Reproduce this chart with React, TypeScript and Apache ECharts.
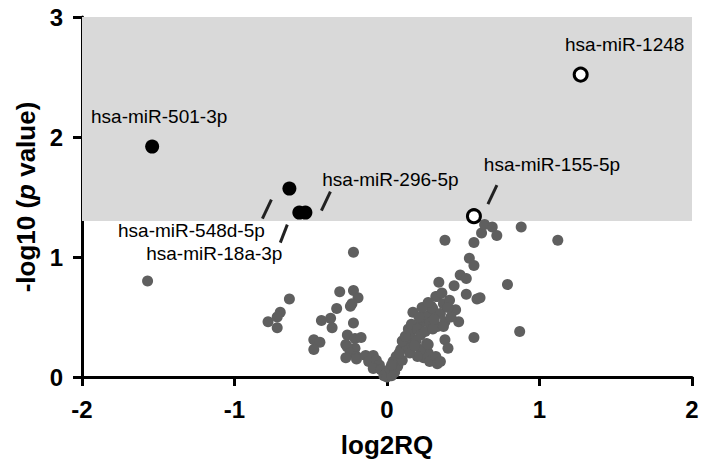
import React, { useEffect, useRef } from 'react';
import * as echarts from 'echarts';

// Non-significant miRNAs: [log2RQ, -log10 p]
const grayPoints: [number, number][] = [
  [-1.57, 0.8],
  [-0.64, 0.65], [-0.7, 0.54], [-0.72, 0.5], [-0.78, 0.46], [-0.72, 0.41],
  [-0.22, 1.04],
  [-0.31, 0.71], [-0.22, 0.72], [-0.19, 0.66], [-0.23, 0.61], [-0.24, 0.59],
  [-0.33, 0.57], [-0.37, 0.49], [-0.43, 0.47], [-0.36, 0.41], [-0.22, 0.45],
  [-0.48, 0.31], [-0.44, 0.29], [-0.48, 0.23],
  [-0.26, 0.35], [-0.21, 0.32], [-0.17, 0.33], [-0.27, 0.27], [-0.21, 0.24], [-0.26, 0.25],
  [-0.24, 0.2], [-0.27, 0.16], [-0.2, 0.17], [-0.2, 0.15], [-0.14, 0.18], [-0.09, 0.18],
  [-0.12, 0.13], [-0.07, 0.14], [-0.05, 0.1], [-0.09, 0.07], [-0.04, 0.06], [-0.01, 0.03],
  [0.01, 0.02], [-0.02, 0.01], [0.0, 0.0], [0.03, 0.01],
  [0.02, 0.07], [0.05, 0.04], [0.04, 0.13], [0.06, 0.17], [0.07, 0.09], [0.1, 0.14],
  [0.09, 0.23], [0.12, 0.28], [0.13, 0.24], [0.15, 0.36], [0.17, 0.31], [0.18, 0.41],
  [0.22, 0.45], [0.24, 0.5], [0.28, 0.52], [0.29, 0.59], [0.32, 0.67], [0.17, 0.54],
  [0.26, 0.28], [0.27, 0.2], [0.24, 0.16], [0.28, 0.13], [0.22, 0.23], [0.2, 0.17],
  [0.32, 0.17], [0.33, 0.11], [0.27, 0.27],
  [0.26, 0.5], [0.28, 0.45], [0.3, 0.57], [0.33, 0.42], [0.33, 0.67], [0.35, 0.53],
  [0.37, 0.61], [0.38, 0.46], [0.41, 0.64], [0.45, 0.56], [0.47, 0.46], [0.37, 0.42],
  [0.38, 0.31], [0.4, 0.24], [0.35, 0.13],
  [0.1, 0.3], [0.12, 0.34], [0.14, 0.4], [0.16, 0.44], [0.2, 0.4], [0.22, 0.35],
  [0.25, 0.38], [0.19, 0.3], [0.08, 0.2], [0.03, 0.1], [0.15, 0.2], [0.18, 0.26],
  [0.21, 0.5], [0.3, 0.4], [0.31, 0.48], [0.23, 0.58], [0.27, 0.62], [0.42, 0.5],
  [0.4, 0.58], [0.36, 0.7],
  [0.34, 0.79], [0.44, 0.76], [0.48, 0.85], [0.52, 0.82], [0.52, 0.69], [0.59, 0.65],
  [0.57, 0.33], [0.87, 0.38], [0.79, 0.77], [0.61, 0.66],
  [0.38, 1.14], [0.57, 1.12], [0.62, 1.2], [0.64, 1.27], [0.69, 1.25], [0.72, 1.18],
  [0.88, 1.25], [1.12, 1.14], [0.54, 0.99], [0.57, 0.93],
];

// Significant, filled (black)
const filledNames = ['hsa-miR-501-3p', 'hsa-miR-548d-5p', 'hsa-miR-18a-3p', 'hsa-miR-296-5p'];
const filledX = [-1.54, -0.64, -0.575, -0.535];
const filledY = [1.92, 1.57, 1.37, 1.37];

// Significant, open circles
const openNames = ['hsa-miR-1248', 'hsa-miR-155-5p'];
const openX = [1.27, 0.57];
const openY = [2.52, 1.34];

const xTicks = [-2, -1, 0, 1, 2];
const yTicks = [0, 1, 2, 3];
const pThreshold = 1.301; // -log10(0.05)

// label placement (pixel offsets relative to the point) — style only
const labelLayout: Record<string, { dx: number; dy: number; line?: [number, number, number, number] }> = {
  'hsa-miR-501-3p': { dx: 7, dy: -30 },
  'hsa-miR-1248': { dx: 44, dy: -30 },
  'hsa-miR-296-5p': { dx: 85, dy: -33, line: [16, -2, 25, -21] },
  'hsa-miR-155-5p': { dx: 78, dy: -52, line: [14, -12, 23, -31] },
  'hsa-miR-548d-5p': { dx: -98, dy: 42, line: [-18, 11, -27, 30] },
  'hsa-miR-18a-3p': { dx: -85, dy: 41, line: [-12, 12, -19, 30] },
};

const FONT = '"Liberation Sans", Arial, Helvetica, sans-serif';

export default function App() {
  const ref = useRef<HTMLDivElement>(null);
  useEffect(() => {
    if (!ref.current) return;
    const chart = echarts.init(ref.current, null, { renderer: 'svg' });
    const axisLineStyle = { color: '#000', width: 3 };
    const option: any = {
      animation: false,
      backgroundColor: '#fff',
      grid: { left: 82, right: 10, top: 17, bottom: 86, containLabel: false },
      xAxis: {
        type: 'value',
        min: xTicks[0],
        max: xTicks[xTicks.length - 1],
        interval: 1,
        position: 'bottom',
        axisLine: { show: true, onZero: false, lineStyle: axisLineStyle },
        axisTick: { show: true, length: 9, lineStyle: axisLineStyle },
        splitLine: { show: false },
        axisLabel: { fontSize: 24, fontWeight: 'bold', color: '#000', fontFamily: FONT, margin: 20 },
        name: 'log2RQ',
        nameLocation: 'middle',
        nameGap: 55,
        nameTextStyle: { fontSize: 26, fontWeight: 'bold', color: '#000', fontFamily: FONT },
      },
      yAxis: {
        type: 'value',
        min: yTicks[0],
        max: yTicks[yTicks.length - 1],
        interval: 1,
        axisLine: { show: true, onZero: false, lineStyle: axisLineStyle },
        axisTick: { show: true, length: 9, lineStyle: axisLineStyle },
        splitLine: { show: false },
        axisLabel: { fontSize: 24, fontWeight: 'bold', color: '#000', fontFamily: FONT, margin: 19 },
        name: '{a|-log10 (}{b|p}{a| value)}',
        nameLocation: 'middle',
        nameGap: 40,
        nameRotate: 90,
        nameTextStyle: {
          color: '#000',
          rich: {
            a: { fontSize: 26, fontWeight: 'bold', color: '#000', fontFamily: FONT },
            b: { fontSize: 26, fontWeight: 'bold', fontStyle: 'italic', color: '#000', fontFamily: FONT },
          },
        },
      },
      series: [
        {
          type: 'scatter',
          data: grayPoints,
          symbol: 'circle',
          symbolSize: 11,
          itemStyle: { color: '#5f5f5f', opacity: 1 },
          silent: true,
          z: 2,
          markArea: {
            silent: true,
            itemStyle: { color: '#d9d9d9' },
            data: [[{ xAxis: xTicks[0], yAxis: pThreshold }, { xAxis: xTicks[xTicks.length - 1], yAxis: yTicks[yTicks.length - 1] }]],
          },
        },
        {
          type: 'scatter',
          data: filledX.map((x, i) => [x, filledY[i]]),
          symbol: 'circle',
          symbolSize: 14,
          itemStyle: { color: '#000', opacity: 1 },
          silent: true,
          z: 3,
        },
        {
          type: 'scatter',
          data: openX.map((x, i) => [x, openY[i]]),
          symbol: 'circle',
          symbolSize: 13,
          itemStyle: { color: '#fff', borderColor: '#000', borderWidth: 3, opacity: 1 },
          silent: true,
          z: 4,
        },
      ],
    };
    chart.setOption(option);

    const labelled: { name: string; x: number; y: number }[] = [
      ...filledNames.map((n, i) => ({ name: n, x: filledX[i], y: filledY[i] })),
      ...openNames.map((n, i) => ({ name: n, x: openX[i], y: openY[i] })),
    ];
    const graphics: any[] = [];
    labelled.forEach((p) => {
      const px = chart.convertToPixel({ xAxisIndex: 0, yAxisIndex: 0 }, [p.x, p.y]) as number[];
      const lay = labelLayout[p.name];
      if (!lay || !px) return;
      graphics.push({
        type: 'text',
        x: px[0] + lay.dx,
        y: px[1] + lay.dy,
        z: 10,
        style: {
          text: p.name,
          fontSize: 19,
          fontFamily: FONT,
          fill: '#000',
          align: 'center',
          verticalAlign: 'middle',
        },
      });
      if (lay.line) {
        graphics.push({
          type: 'line',
          z: 10,
          shape: {
            x1: px[0] + lay.line[0],
            y1: px[1] + lay.line[1],
            x2: px[0] + lay.line[2],
            y2: px[1] + lay.line[3],
          },
          style: { stroke: '#222', lineWidth: 3 },
        });
      }
    });
    chart.setOption({ graphic: graphics });

    return () => chart.dispose();
  }, []);
  return <div ref={ref} style={{ width: 702, height: 463, position: 'absolute', left: 0, top: 0 }} />;
}
